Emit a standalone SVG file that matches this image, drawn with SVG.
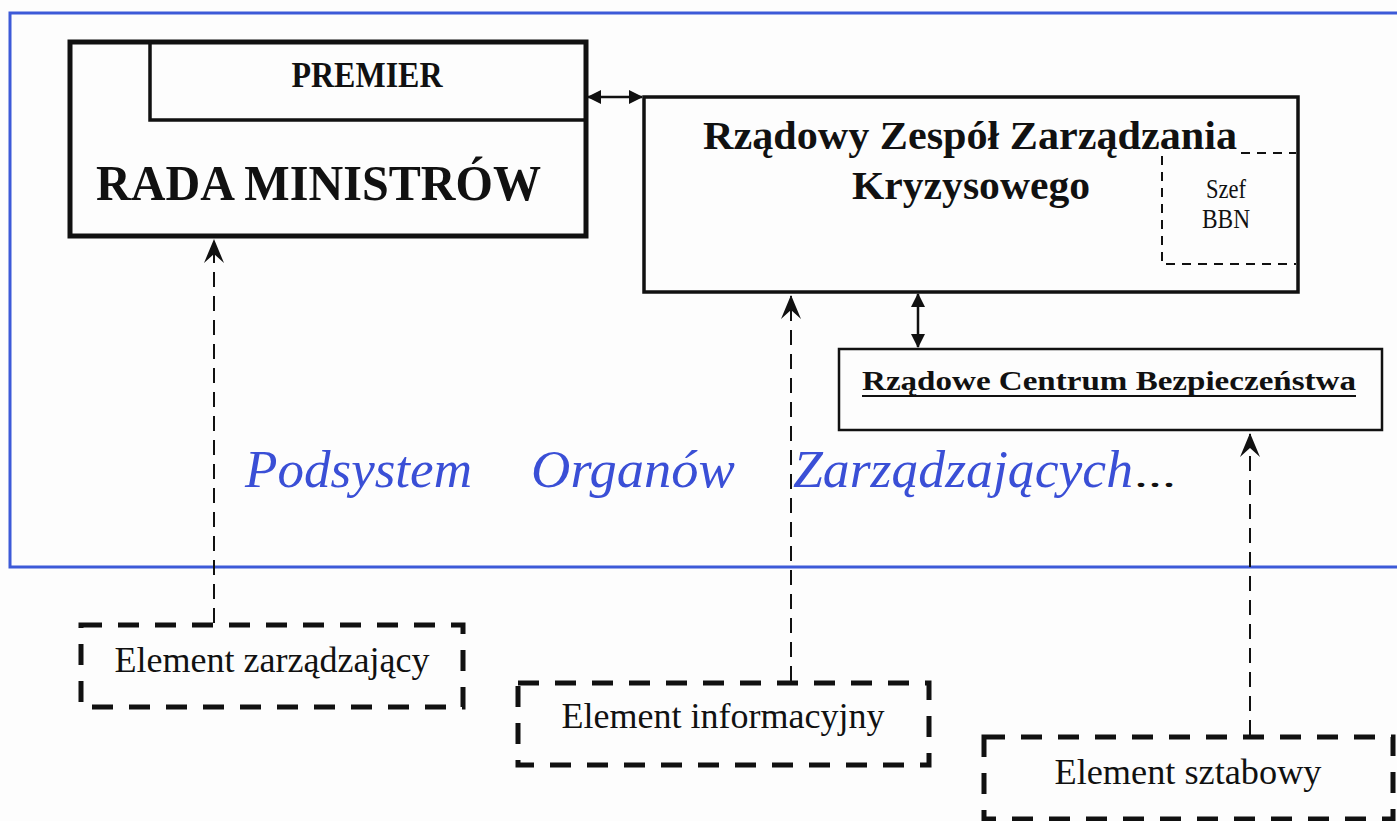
<svg xmlns="http://www.w3.org/2000/svg" width="1397" height="821" viewBox="0 0 1397 821">
<style>
.solid{fill:none;stroke:#111;}
.elem{fill:none;stroke:#111;stroke-width:5;stroke-dasharray:21 16;}
.conn{fill:none;stroke:#111;stroke-width:2;stroke-dasharray:15 9;}
.dbl{fill:none;stroke:#111;stroke-width:2.5;}
.b{font-family:"Liberation Serif",serif;font-weight:bold;fill:#111;}
.r{font-family:"Liberation Serif",serif;fill:#111;}
.it{font-family:"Liberation Serif",serif;font-style:italic;fill:#3a4fd6;}
</style>
<defs>
<marker id="barb" viewBox="0 0 24 20" refX="23" refY="10" markerWidth="24" markerHeight="20" orient="auto" markerUnits="userSpaceOnUse">
<path d="M24,10 L0,0 L9,10 L0,20 Z" fill="#111"/>
</marker>
<marker id="tri" viewBox="0 0 14 14" refX="13" refY="7" markerWidth="14" markerHeight="14" orient="auto-start-reverse" markerUnits="userSpaceOnUse">
<path d="M14,7 L0,0 L0,14 Z" fill="#111"/>
</marker>
</defs>
<rect width="1397" height="821" fill="#fdfdfd"/>
<g id="frame">
<path d="M1400,13 H10 V567 H1400" fill="none" stroke="#3d5ad8" stroke-width="3"/>
<text class="it" x="245" y="487" font-size="53" textLength="227" lengthAdjust="spacingAndGlyphs">Podsystem</text>
<text class="it" x="531" y="487" font-size="53" textLength="204" lengthAdjust="spacingAndGlyphs">Organów</text>
<text class="it" x="793" y="487" font-size="53" textLength="340" lengthAdjust="spacingAndGlyphs">Zarządzających</text>
<text class="r" x="1134" y="487" font-size="36" textLength="42" lengthAdjust="spacingAndGlyphs">...</text>
</g>
<g id="rada">
<rect class="solid" x="70" y="42" width="516" height="194" stroke-width="5"/>
<path class="solid" d="M150,42 V120 H586" stroke-width="3.5"/>
<text class="b" x="367" y="87" font-size="36" text-anchor="middle" textLength="151" lengthAdjust="spacingAndGlyphs">PREMIER</text>
<text class="b" x="96" y="200" font-size="50" textLength="445" lengthAdjust="spacingAndGlyphs">RADA MINISTRÓW</text>
</g>
<g id="rzzk">
<rect class="solid" x="644" y="97" width="654" height="195" stroke-width="3.5"/>
<text class="b" x="703" y="149" font-size="41" textLength="534" lengthAdjust="spacingAndGlyphs">Rządowy Zespół Zarządzania</text>
<text class="b" x="852" y="199" font-size="41" textLength="238" lengthAdjust="spacingAndGlyphs">Kryzysowego</text>
</g>
<g id="szef">
<path d="M1241,153 H1296 M1162,156 V264 H1296" fill="none" stroke="#111" stroke-width="2" stroke-dasharray="9 7"/>
<text class="r" x="1226" y="198" font-size="28" text-anchor="middle" textLength="40" lengthAdjust="spacingAndGlyphs">Szef</text>
<text class="r" x="1226" y="228" font-size="28" text-anchor="middle" textLength="48" lengthAdjust="spacingAndGlyphs">BBN</text>
</g>
<g id="rcb">
<rect class="solid" x="839" y="349" width="543" height="81" stroke-width="2.5"/>
<text class="b" x="862" y="390" font-size="28" textLength="494" lengthAdjust="spacingAndGlyphs">Rządowe Centrum Bezpieczeństwa</text>
<line x1="862" y1="396" x2="1356" y2="396" stroke="#111" stroke-width="2"/>
</g>
<g id="el-zarz">
<rect class="elem" x="81" y="625" width="382" height="82"/>
<text class="r" x="272" y="672" font-size="36" text-anchor="middle" textLength="315" lengthAdjust="spacingAndGlyphs">Element zarządzający</text>
</g>
<g id="el-inf">
<rect class="elem" x="518" y="683" width="411" height="82"/>
<text class="r" x="723" y="728" font-size="36" text-anchor="middle" textLength="323" lengthAdjust="spacingAndGlyphs">Element informacyjny</text>
</g>
<g id="el-szt">
<rect class="elem" x="984" y="737" width="409" height="82"/>
<text class="r" x="1188" y="784" font-size="36" text-anchor="middle" textLength="267" lengthAdjust="spacingAndGlyphs">Element sztabowy</text>
</g>
<g id="connectors">
<line class="dbl" x1="588" y1="97" x2="642" y2="97" marker-start="url(#tri)" marker-end="url(#tri)"/>
<line class="dbl" x1="918" y1="294" x2="918" y2="347" marker-start="url(#tri)" marker-end="url(#tri)"/>
<path class="conn" d="M214,623 V240" marker-end="url(#barb)"/>
<path class="conn" d="M791,681 V296" marker-end="url(#barb)"/>
<path class="conn" d="M1250,735 V434" marker-end="url(#barb)"/>
</g>
</svg>
